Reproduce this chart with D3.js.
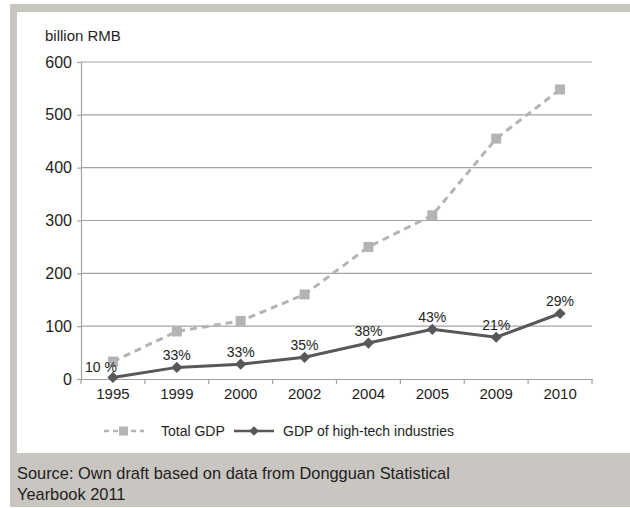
<!DOCTYPE html>
<html>
<head>
<meta charset="utf-8">
<script src="https://cdn.jsdelivr.net/npm/d3@7"></script>
<style>
  html, body { margin: 0; padding: 0; background: #fff; }
  svg { display: block; font-family: "Liberation Sans", Arial, sans-serif; }
</style>
</head>
<body>
<svg id="chart" width="630" height="508"></svg>
<script>
// Years on the category axis
const years = ["1995", "1999", "2000", "2002", "2004", "2005", "2009", "2010"];
// Total GDP of Dongguan, billion RMB
const totalGdp = [33, 90, 110, 160, 250, 310, 455, 548];
// GDP of high-tech industries, billion RMB
const hightechGdp = [3, 22, 28, 41, 68, 94, 79, 124];
// Share labels printed above the high-tech series
const shareLabels = ["10 %", "33%", "33%", "35%", "38%", "43%", "21%", "29%"];
// Value axis ticks
const yTicks = [0, 100, 200, 300, 400, 500, 600];

const svg = d3.select("#chart");
const frameGray = "#c9c5c1";
const textColor = "#1e1e1e";

// Gray frame around the chart panel and the caption band
svg.append("rect").attr("x", 10).attr("y", 4).attr("width", 620).attr("height", 503).attr("fill", frameGray);
svg.append("rect").attr("x", 17).attr("y", 12).attr("width", 613).attr("height", 441).attr("fill", "#fff");

const plotLeft = 81, plotRight = 592, plotTop = 62, plotBottom = 379;

const x = d3.scaleBand().domain(years).range([plotLeft, plotRight]).paddingInner(0).paddingOuter(0);
const y = d3.scaleLinear().domain([0, 600]).range([plotBottom, plotTop]);
const cx = d => x(d) + x.bandwidth() / 2;

// Horizontal gridlines
svg.append("g")
  .selectAll("line")
  .data(yTicks.filter(t => t > 0))
  .join("line")
  .attr("x1", plotLeft).attr("x2", plotRight)
  .attr("y1", d => y(d)).attr("y2", d => y(d))
  .attr("stroke", "#a3a3a3").attr("stroke-width", 1.2);

// Value axis
const yAxis = svg.append("g")
  .attr("transform", `translate(${plotLeft},0)`)
  .call(d3.axisLeft(y).tickValues(yTicks).tickSize(4).tickPadding(5));
yAxis.select(".domain").attr("stroke", "#a3a3a3").attr("stroke-width", 1.2);
yAxis.selectAll(".tick line").attr("stroke", "#a3a3a3").attr("stroke-width", 1.2);
yAxis.selectAll("text").attr("font-size", 16).attr("fill", textColor)
  .attr("font-family", "'Liberation Sans', Arial, sans-serif");

// Category axis with ticks between the categories
const xAxis = svg.append("g")
  .attr("transform", `translate(0,${plotBottom})`)
  .call(d3.axisBottom(x).tickSize(0).tickPadding(9));
xAxis.select(".domain").attr("stroke", "#a3a3a3").attr("stroke-width", 1.2);
xAxis.selectAll("text").attr("font-size", 15).attr("fill", textColor)
  .attr("font-family", "'Liberation Sans', Arial, sans-serif");
xAxis.append("g").selectAll("line")
  .data(years.map(d => x(d)).concat([x(years[years.length - 1]) + x.bandwidth()]))
  .join("line")
  .attr("x1", d => d).attr("x2", d => d)
  .attr("y1", 0).attr("y2", 5)
  .attr("stroke", "#a3a3a3").attr("stroke-width", 1.2);

// Unit label
svg.append("text").attr("x", 45).attr("y", 41)
  .attr("font-size", 15).attr("fill", textColor).text("billion RMB");

// Total GDP: dashed light line with square markers
const lineTotal = d3.line().x((d, i) => cx(years[i])).y(d => y(d));
svg.append("path").datum(totalGdp)
  .attr("d", lineTotal).attr("fill", "none")
  .attr("stroke", "#b4b4b4").attr("stroke-width", 3).attr("stroke-dasharray", "7,5");
svg.append("g").selectAll("rect")
  .data(totalGdp)
  .join("rect")
  .attr("x", (d, i) => cx(years[i]) - 5).attr("y", d => y(d) - 5)
  .attr("width", 10).attr("height", 10).attr("fill", "#b4b4b4");

// High-tech GDP: solid dark line with diamond markers
const lineTech = d3.line().x((d, i) => cx(years[i])).y(d => y(d));
svg.append("path").datum(hightechGdp)
  .attr("d", lineTech).attr("fill", "none")
  .attr("stroke", "#585858").attr("stroke-width", 3);
const diamond = d3.symbol().type(d3.symbolDiamond2).size(80);
svg.append("g").selectAll("path")
  .data(hightechGdp)
  .join("path")
  .attr("transform", (d, i) => `translate(${cx(years[i])},${y(d)})`)
  .attr("d", diamond).attr("fill", "#585858");

// Share labels
svg.append("g").selectAll("text")
  .data(hightechGdp)
  .join("text")
  .attr("x", (d, i) => cx(years[i]) + (i === 0 ? -12 : 0))
  .attr("y", (d, i) => y(d) - (i === 0 ? 5 : 7))
  .attr("text-anchor", "middle")
  .attr("font-size", 14).attr("fill", textColor)
  .text((d, i) => shareLabels[i]);

// Legend
const ly = 431;
const legend = svg.append("g");
legend.append("line").attr("x1", 104).attr("x2", 144).attr("y1", ly).attr("y2", ly)
  .attr("stroke", "#b4b4b4").attr("stroke-width", 2.5).attr("stroke-dasharray", "5,4");
legend.append("rect").attr("x", 119).attr("y", ly - 4.5).attr("width", 9).attr("height", 9).attr("fill", "#b4b4b4");
legend.append("text").attr("x", 161).attr("y", ly + 5).attr("font-size", 14).attr("fill", textColor).text("Total GDP");
legend.append("line").attr("x1", 234).attr("x2", 274).attr("y1", ly).attr("y2", ly)
  .attr("stroke", "#585858").attr("stroke-width", 2.5);
legend.append("path").attr("transform", `translate(254,${ly})`)
  .attr("d", d3.symbol().type(d3.symbolDiamond2).size(60)).attr("fill", "#585858");
legend.append("text").attr("x", 283).attr("y", ly + 5).attr("font-size", 14).attr("fill", textColor)
  .text("GDP of high-tech industries");

// Source caption
const caption = svg.append("text").attr("x", 17).attr("font-size", 16.4).attr("fill", textColor);
caption.append("tspan").attr("x", 17).attr("y", 479).text("Source: Own draft based on data from Dongguan Statistical");
caption.append("tspan").attr("x", 17).attr("y", 500).text("Yearbook 2011");
</script>
</body>
</html>
